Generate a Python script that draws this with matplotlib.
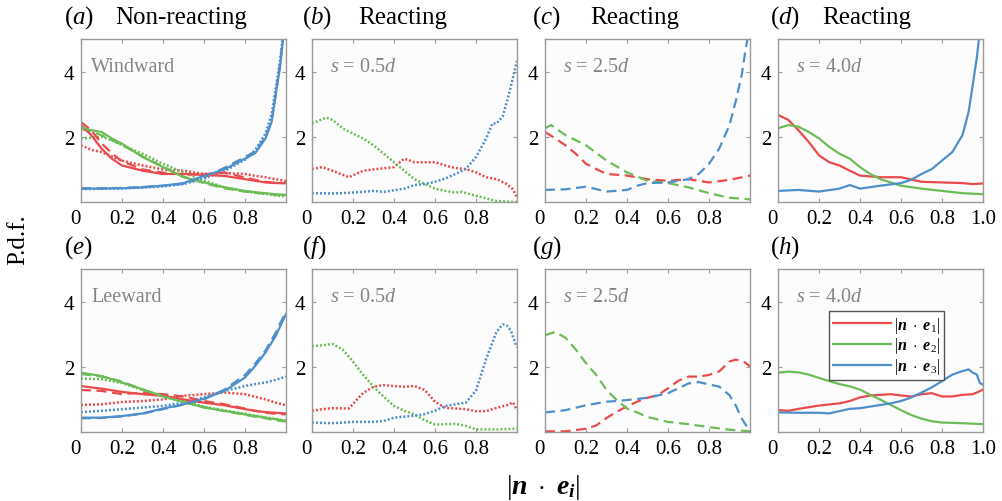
import matplotlib
matplotlib.use("Agg")
import matplotlib.pyplot as plt

plt.rcParams['font.family'] = 'Liberation Serif'
plt.rcParams['mathtext.fontset'] = 'custom'
plt.rcParams['mathtext.rm'] = 'Liberation Serif'
plt.rcParams['mathtext.it'] = 'Liberation Serif:italic'
plt.rcParams['mathtext.bf'] = 'Liberation Serif:bold'
plt.rcParams['mathtext.bfit'] = 'Liberation Serif:bold:italic'

RED = '#EB4A4C'
GREEN = '#6CBD57'
BLUE = '#4F8FCB'

#### (a) non-reacting, windward ####
a_x = [0, 0.05, 0.1, 0.15, 0.2, 0.3, 0.4, 0.5, 0.6, 0.7, 0.8, 0.85, 0.9, 0.93, 0.95, 0.97, 0.985, 1.0]
a_e3_solid = [0.41, 0.41, 0.41, 0.42, 0.42, 0.45, 0.5, 0.58, 0.8, 1.0, 1.33, 1.5, 1.95, 2.46, 3.3, 4.1, 4.95, 5.8]
a_e3_dash = [0.42, 0.42, 0.42, 0.43, 0.43, 0.46, 0.5, 0.56, 0.75, 1.05, 1.38, 1.55, 2.0, 2.5, 3.3, 4.2, 5.0, 5.9]
a_e3_dot = [0.40, 0.40, 0.41, 0.41, 0.42, 0.44, 0.48, 0.55, 0.72, 0.95, 1.3, 1.6, 2.1, 2.7, 3.5, 4.3, 5.1, 6.0]
a_e1_solid = [2.36, 2.05, 1.64, 1.33, 1.12, 0.96, 0.86, 0.86, 0.83, 0.8, 0.7, 0.65, 0.6, 0.59, 0.58, 0.58, 0.58, 0.58]
a_e1_dash = [2.45, 2.2, 1.8, 1.5, 1.25, 1.0, 0.9, 0.85, 0.85, 0.9, 0.75, 0.68, 0.62, 0.6, 0.59, 0.58, 0.58, 0.58]
a_e1_dot = [1.74, 1.6, 1.53, 1.4, 1.27, 1.12, 1.0, 0.96, 0.86, 0.89, 0.86, 0.8, 0.76, 0.72, 0.7, 0.68, 0.66, 0.65]
a_e2_solid = [2.3, 2.2, 2.15, 1.95, 1.79, 1.38, 1.07, 0.76, 0.6, 0.45, 0.34, 0.3, 0.27, 0.25, 0.24, 0.23, 0.22, 0.22]
a_e2_dash = [2.25, 2.15, 2.05, 1.9, 1.75, 1.4, 1.08, 0.78, 0.58, 0.42, 0.32, 0.28, 0.25, 0.23, 0.22, 0.21, 0.2, 0.2]
a_e2_dot = [1.95, 1.97, 2.0, 1.9, 1.74, 1.48, 1.17, 0.91, 0.65, 0.45, 0.32, 0.28, 0.25, 0.22, 0.2, 0.19, 0.18, 0.17]

#### (b) reacting s = 0.5d, windward ####
b_e2_x = [0, 0.07, 0.1, 0.15, 0.2, 0.25, 0.3, 0.35, 0.4, 0.45, 0.5, 0.55, 0.6, 0.65, 0.7, 0.73, 0.8, 0.9, 1.0]
b_e2 = [2.41, 2.59, 2.52, 2.26, 2.1, 1.95, 1.74, 1.48, 1.22, 0.96, 0.7, 0.55, 0.41, 0.34, 0.29, 0.31, 0.19, 0.03, 0.0]
b_e1_x = [0, 0.05, 0.1, 0.18, 0.25, 0.3, 0.4, 0.45, 0.5, 0.55, 0.6, 0.65, 0.7, 0.75, 0.8, 0.85, 0.9, 0.95, 0.98, 1.0]
b_e1 = [1.01, 1.07, 0.96, 0.76, 0.96, 1.0, 1.07, 1.33, 1.22, 1.22, 1.22, 1.12, 1.04, 1.01, 0.91, 0.76, 0.7, 0.55, 0.39, 0.13]
b_e3_x = [0, 0.1, 0.2, 0.3, 0.35, 0.4, 0.45, 0.5, 0.55, 0.6, 0.65, 0.7, 0.75, 0.8, 0.85, 0.88, 0.9, 0.93, 0.96, 0.98, 1.0]
b_e3 = [0.27, 0.26, 0.29, 0.34, 0.31, 0.36, 0.41, 0.52, 0.55, 0.62, 0.72, 0.86, 1.01, 1.38, 1.95, 2.41, 2.41, 2.62, 3.29, 3.81, 4.33]

#### (c) reacting s = 2.5d, windward ####
c_e3_x = [0, 0.1, 0.2, 0.3, 0.4, 0.45, 0.5, 0.6, 0.7, 0.75, 0.8, 0.85, 0.9, 0.93, 0.96, 0.98, 1.0]
c_e3 = [0.37, 0.39, 0.47, 0.32, 0.37, 0.5, 0.58, 0.6, 0.7, 0.86, 1.17, 1.64, 2.36, 3.08, 3.91, 4.74, 5.4]
c_e1_x = [0, 0.05, 0.1, 0.15, 0.2, 0.25, 0.3, 0.4, 0.5, 0.6, 0.7, 0.8, 0.9, 1.0]
c_e1 = [2.15, 1.95, 1.74, 1.48, 1.17, 1.01, 0.86, 0.81, 0.7, 0.65, 0.7, 0.6, 0.68, 0.81]
c_e2_x = [0, 0.03, 0.1, 0.2, 0.3, 0.4, 0.5, 0.6, 0.7, 0.8, 0.9, 1.0]
c_e2 = [2.26, 2.36, 2.05, 1.74, 1.27, 0.91, 0.65, 0.58, 0.45, 0.27, 0.13, 0.08]

#### (d) reacting s = 4.0d, windward ####
d_e1_x = [0, 0.05, 0.1, 0.15, 0.2, 0.25, 0.3, 0.35, 0.4, 0.5, 0.6, 0.7, 0.8, 0.9, 0.95, 1.0]
d_e1 = [2.67, 2.52, 2.2, 1.84, 1.43, 1.22, 1.12, 0.96, 0.81, 0.76, 0.76, 0.62, 0.6, 0.58, 0.55, 0.57]
d_e2_x = [0, 0.05, 0.1, 0.15, 0.2, 0.25, 0.3, 0.35, 0.4, 0.45, 0.5, 0.6, 0.7, 0.8, 0.9, 1.0]
d_e2 = [2.26, 2.36, 2.31, 2.15, 1.95, 1.69, 1.48, 1.33, 1.07, 0.86, 0.7, 0.5, 0.41, 0.34, 0.27, 0.24]
d_e3_x = [0, 0.1, 0.2, 0.3, 0.35, 0.4, 0.5, 0.6, 0.65, 0.7, 0.75, 0.8, 0.85, 0.9, 0.93, 0.95, 0.97, 0.98, 1.0]
d_e3 = [0.34, 0.37, 0.32, 0.41, 0.52, 0.41, 0.5, 0.58, 0.68, 0.86, 1.01, 1.27, 1.53, 2.05, 2.77, 3.6, 4.43, 5.0, 6.0]

#### (e) non-reacting, leeward ####
e_x = [0, 0.1, 0.2, 0.3, 0.4, 0.5, 0.6, 0.7, 0.8, 0.85, 0.9, 0.95, 1.0]
e_e3_solid = [0.44, 0.44, 0.49, 0.57, 0.72, 0.85, 1.02, 1.26, 1.67, 2.03, 2.44, 2.95, 3.62]
e_e3_dash = [0.42, 0.43, 0.48, 0.56, 0.7, 0.84, 1.0, 1.3, 1.75, 2.1, 2.5, 3.05, 3.7]
e_e3_dot = [0.61, 0.65, 0.7, 0.75, 0.8, 0.9, 1.06, 1.26, 1.41, 1.47, 1.52, 1.6, 1.7]
e_e1_solid = [1.41, 1.33, 1.23, 1.16, 1.11, 1.0, 0.9, 0.82, 0.7, 0.65, 0.61, 0.59, 0.57]
e_e1_dash = [1.29, 1.26, 1.16, 1.21, 1.16, 1.09, 0.95, 0.85, 0.72, 0.65, 0.59, 0.56, 0.54]
e_e1_dot = [0.83, 0.85, 0.92, 0.95, 1.0, 1.11, 1.16, 1.21, 1.16, 1.08, 1.0, 0.9, 0.82]
e_e2_solid = [1.82, 1.72, 1.52, 1.31, 1.09, 0.92, 0.75, 0.65, 0.54, 0.49, 0.44, 0.39, 0.34]
e_e2_dash = [1.78, 1.7, 1.55, 1.3, 1.1, 0.92, 0.76, 0.64, 0.53, 0.47, 0.42, 0.36, 0.32]
e_e2_dot = [1.64, 1.62, 1.5, 1.29, 1.11, 0.95, 0.78, 0.66, 0.56, 0.5, 0.45, 0.4, 0.35]

#### (f) reacting s = 0.5d, leeward ####
f_e2_x = [0, 0.05, 0.1, 0.15, 0.2, 0.25, 0.3, 0.35, 0.4, 0.45, 0.5, 0.55, 0.6, 0.7, 0.75, 0.8, 0.9, 1.0]
f_e2 = [2.63, 2.66, 2.7, 2.53, 2.16, 1.75, 1.39, 1.08, 0.8, 0.65, 0.54, 0.36, 0.23, 0.25, 0.19, 0.08, 0.08, 0.1]
f_e1_x = [0, 0.05, 0.1, 0.18, 0.22, 0.25, 0.3, 0.35, 0.4, 0.45, 0.5, 0.55, 0.6, 0.65, 0.7, 0.75, 0.8, 0.85, 0.9, 0.95, 0.98, 1.0]
f_e1 = [0.65, 0.7, 0.73, 0.72, 1.0, 1.2, 1.39, 1.44, 1.41, 1.39, 1.41, 1.29, 0.93, 0.74, 0.72, 0.7, 0.64, 0.64, 0.74, 0.82, 0.91, 0.67]
f_e3_x = [0, 0.1, 0.2, 0.3, 0.35, 0.4, 0.5, 0.55, 0.6, 0.65, 0.7, 0.75, 0.8, 0.85, 0.9, 0.93, 0.95, 0.97, 0.99, 1.0]
f_e3 = [0.29, 0.27, 0.31, 0.31, 0.34, 0.44, 0.5, 0.55, 0.65, 0.8, 0.85, 0.9, 1.27, 2.25, 3.07, 3.3, 3.27, 3.11, 2.75, 2.6]

#### (g) reacting s = 2.5d, leeward ####
g_e2_x = [0, 0.05, 0.1, 0.15, 0.2, 0.25, 0.3, 0.35, 0.4, 0.45, 0.5, 0.6, 0.7, 0.8, 0.9, 1.0]
g_e2 = [2.97, 3.07, 2.89, 2.53, 2.11, 1.75, 1.29, 0.98, 0.72, 0.6, 0.46, 0.31, 0.24, 0.15, 0.07, 0.02]
g_e1_x = [0, 0.1, 0.2, 0.25, 0.3, 0.35, 0.4, 0.45, 0.5, 0.55, 0.6, 0.65, 0.7, 0.75, 0.8, 0.85, 0.9, 0.93, 0.97, 1.0]
g_e1 = [0.02, 0.02, 0.1, 0.2, 0.43, 0.62, 0.79, 0.93, 1.05, 1.13, 1.34, 1.57, 1.7, 1.7, 1.75, 1.86, 2.16, 2.22, 2.16, 2.01]
g_e3_x = [0, 0.1, 0.2, 0.3, 0.35, 0.4, 0.5, 0.6, 0.65, 0.7, 0.75, 0.8, 0.85, 0.9, 0.93, 0.96, 1.0]
g_e3 = [0.6, 0.67, 0.82, 0.93, 0.95, 0.98, 1.05, 1.19, 1.34, 1.49, 1.53, 1.46, 1.39, 1.13, 0.82, 0.41, 0.02]

#### (h) reacting s = 4.0d, leeward ####
h_e2_x = [0, 0.05, 0.1, 0.15, 0.2, 0.25, 0.3, 0.35, 0.4, 0.45, 0.5, 0.55, 0.6, 0.65, 0.7, 0.75, 0.8, 0.9, 1.0]
h_e2 = [1.82, 1.85, 1.83, 1.76, 1.66, 1.56, 1.47, 1.4, 1.3, 1.14, 0.99, 0.83, 0.67, 0.52, 0.41, 0.33, 0.29, 0.27, 0.24]
h_e1_x = [0, 0.05, 0.1, 0.2, 0.3, 0.35, 0.4, 0.45, 0.5, 0.55, 0.6, 0.65, 0.7, 0.75, 0.8, 0.85, 0.9, 0.95, 0.98, 1.0]
h_e1 = [0.67, 0.65, 0.71, 0.81, 0.88, 0.95, 1.06, 1.12, 1.14, 1.16, 1.12, 1.09, 1.16, 1.19, 1.09, 1.09, 1.14, 1.16, 1.24, 1.3]
h_e3_x = [0, 0.1, 0.2, 0.25, 0.3, 0.35, 0.4, 0.45, 0.5, 0.55, 0.6, 0.65, 0.7, 0.75, 0.8, 0.85, 0.9, 0.93, 0.95, 0.97, 0.985, 1.0]
h_e3 = [0.6, 0.59, 0.59, 0.57, 0.64, 0.71, 0.73, 0.78, 0.83, 0.88, 0.95, 1.06, 1.21, 1.37, 1.56, 1.76, 1.87, 1.92, 1.82, 1.76, 1.5, 1.45]

panel_tags = ['a', 'b', 'c', 'd', 'e', 'f', 'g', 'h']
column_titles = ['Non-reacting', 'Reacting', 'Reacting', 'Reacting']
inset_notes = ['Windward', r'$s$ = 0.5$d$', r'$s$ = 2.5$d$', r'$s$ = 4.0$d$',
               'Leeward', r'$s$ = 0.5$d$', r'$s$ = 2.5$d$', r'$s$ = 4.0$d$']
legend_labels = [r'$|\mathbfit{n}\ \cdot\ \mathbfit{e}_1|$',
                 r'$|\mathbfit{n}\ \cdot\ \mathbfit{e}_2|$',
                 r'$|\mathbfit{n}\ \cdot\ \mathbfit{e}_3|$']
x_ticks = [0.2, 0.4, 0.6, 0.8]
y_ticks = [2, 4]

SOLID = '-'
DASH = (0, (4.5, 2.5))
DOT = (0, (0.8, 0.8))

# per panel: list of (x, y, colour, style)
curves = [
    [(a_x, a_e1_dot, RED, DOT), (a_x, a_e2_dot, GREEN, DOT), (a_x, a_e3_dot, BLUE, DOT),
     (a_x, a_e1_dash, RED, DASH), (a_x, a_e2_dash, GREEN, DASH), (a_x, a_e3_dash, BLUE, DASH),
     (a_x, a_e1_solid, RED, SOLID), (a_x, a_e2_solid, GREEN, SOLID), (a_x, a_e3_solid, BLUE, SOLID)],
    [(b_e1_x, b_e1, RED, DOT), (b_e2_x, b_e2, GREEN, DOT), (b_e3_x, b_e3, BLUE, DOT)],
    [(c_e1_x, c_e1, RED, DASH), (c_e2_x, c_e2, GREEN, DASH), (c_e3_x, c_e3, BLUE, DASH)],
    [(d_e1_x, d_e1, RED, SOLID), (d_e2_x, d_e2, GREEN, SOLID), (d_e3_x, d_e3, BLUE, SOLID)],
    [(e_x, e_e1_dot, RED, DOT), (e_x, e_e2_dot, GREEN, DOT), (e_x, e_e3_dot, BLUE, DOT),
     (e_x, e_e1_dash, RED, DASH), (e_x, e_e2_dash, GREEN, DASH), (e_x, e_e3_dash, BLUE, DASH),
     (e_x, e_e1_solid, RED, SOLID), (e_x, e_e2_solid, GREEN, SOLID), (e_x, e_e3_solid, BLUE, SOLID)],
    [(f_e1_x, f_e1, RED, DOT), (f_e2_x, f_e2, GREEN, DOT), (f_e3_x, f_e3, BLUE, DOT)],
    [(g_e1_x, g_e1, RED, DASH), (g_e2_x, g_e2, GREEN, DASH), (g_e3_x, g_e3, BLUE, DASH)],
    [(h_e1_x, h_e1, RED, SOLID), (h_e2_x, h_e2, GREEN, SOLID), (h_e3_x, h_e3, BLUE, SOLID)],
]

W, H = 1003, 502
fig = plt.figure(figsize=(W / 100, H / 100), dpi=100)

col_left = [81, 312, 545, 778]
row_top = [40, 270]
ax_w, ax_h = 205, 163

axes = []
for k in range(8):
    r, c = divmod(k, 4)
    x0 = col_left[c] / W
    y0 = 1 - (row_top[r] + ax_h) / H
    ax = fig.add_axes([x0, y0, ax_w / W, ax_h / H])
    ax.set_facecolor('#fcfcfc')
    for (xx, yy, col, ls) in curves[k]:
        lw = 1.8 if ls == DOT else 1.6
        ax.plot(xx, yy, color=col, linestyle=ls, lw=lw, label=None)
    ax.set_xlim(0, 1)
    ax.set_ylim(0, 5)
    ticks = [0] + x_ticks + ([1.0] if c == 3 else [])
    labels = ['0', '0.2', '0.4', '0.6', '0.8'] + (['1.0'] if c == 3 else [])
    ax.set_xticks(ticks)
    ax.set_xticklabels(labels)
    ax.get_xticklabels()[0].set_horizontalalignment('right')
    ax.set_yticks(y_ticks)
    ax.tick_params(direction='in', length=3, width=0.8, color='#9a9a9a',
                   top=True, right=True, labelsize=15, pad=5)
    for s in ax.spines.values():
        s.set_color('#9a9a9a')
        s.set_linewidth(1.0)
    ax.text(0.05 if c == 0 else 0.09, 0.83, inset_notes[k], transform=ax.transAxes,
            color='#858585', fontsize=14.5, va='center', ha='left')
    axes.append(ax)

# legend for the third row of lines in (h)
handles = [plt.Line2D([], [], color=col, lw=1.6) for col in (RED, GREEN, BLUE)]
leg = axes[7].legend(handles, legend_labels, loc='upper left', bbox_to_anchor=(0.25, 0.745),
                     borderaxespad=0, fontsize=11.5, handlelength=3.6, handletextpad=0.2,
                     labelspacing=0.05, borderpad=0.25, fancybox=False, framealpha=1)
leg.get_frame().set_edgecolor('#555555')
leg.get_frame().set_linewidth(1.0)

# panel tags and column headings
tag_x = [64, 302, 532, 770]
title_x = [115, 358, 590, 822]
for k in range(8):
    r, c = divmod(k, 4)
    y = 1 - (18 if r == 0 else 248) / H
    fig.text(tag_x[c] / W, y, r'$(%s)$' % panel_tags[k], fontsize=18, va='center', ha='left')
    if r == 0:
        fig.text(title_x[c] / W, y, column_titles[c], fontsize=18, va='center', ha='left')

fig.text(18 / W, 1 - 240 / H, 'P.d.f.', fontsize=18, rotation=90, va='center', ha='center')
fig.text(543 / W, 1 - 488 / H, r'$|\mathbfit{n}\ \cdot\ \mathbfit{e}_{\mathbfit{i}}|$',
         fontsize=20, va='center', ha='center')

fig.savefig('out.png', dpi=100)
